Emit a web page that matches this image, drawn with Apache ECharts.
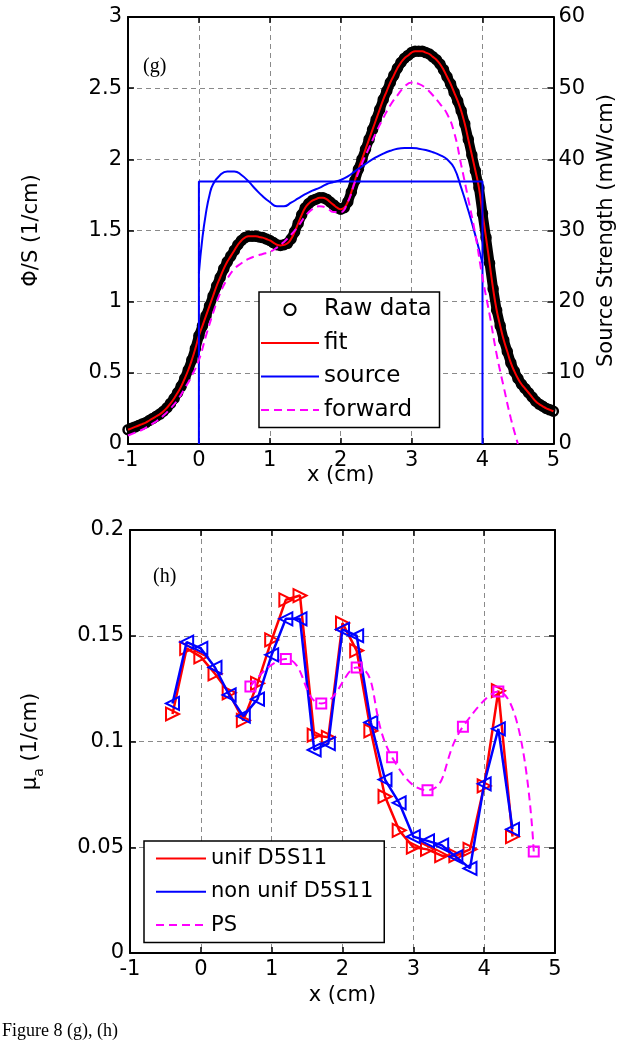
<!DOCTYPE html>
<html><head><meta charset="utf-8">
<script src="https://cdn.jsdelivr.net/npm/echarts@6/dist/echarts.min.js"></script>
<style>html,body{margin:0;padding:0;background:#fff}#c{width:625px;height:1050px}</style>
</head><body><div id="c"></div>
<script>
// ---------- panel (g) ----------
const xRaw = [
 -1.00,-0.95,-0.90,-0.85,-0.80,-0.75,-0.70,-0.65,-0.60,-0.55,
 -0.50,-0.45,-0.40,-0.35,-0.30,-0.25,-0.20,-0.15,-0.10,-0.05,
  0.00, 0.05, 0.10, 0.15, 0.20, 0.25, 0.30, 0.35, 0.40, 0.45,
  0.50, 0.55, 0.60, 0.65, 0.70, 0.75, 0.80, 0.85, 0.90, 0.95,
  1.00, 1.05, 1.10, 1.15, 1.20, 1.25, 1.30, 1.35, 1.40, 1.45,
  1.50, 1.55, 1.60, 1.65, 1.70, 1.75, 1.80, 1.85, 1.90, 1.95,
  2.00, 2.05, 2.10, 2.15, 2.20, 2.25, 2.30, 2.35, 2.40, 2.45,
  2.50, 2.55, 2.60, 2.65, 2.70, 2.75, 2.80, 2.85, 2.90, 2.95,
  3.00, 3.05, 3.10, 3.15, 3.20, 3.25, 3.30, 3.35, 3.40, 3.45,
  3.50, 3.55, 3.60, 3.65, 3.70, 3.75, 3.80, 3.85, 3.90, 3.95,
  4.00, 4.05, 4.10, 4.15, 4.20, 4.25, 4.30, 4.35, 4.40, 4.45,
  4.50, 4.55, 4.60, 4.65, 4.70, 4.75, 4.80, 4.85, 4.90, 4.95,
  5.00];
const phiRaw = [
 0.10,0.11,0.12,0.13,0.14,0.15,0.165,0.18,0.195,0.21,
 0.23,0.255,0.285,0.32,0.36,0.405,0.46,0.52,0.59,0.67,
 0.76,0.83,0.90,0.97,1.04,1.11,1.17,1.23,1.28,1.32,
 1.36,1.40,1.43,1.45,1.46,1.46,1.46,1.455,1.45,1.44,
 1.43,1.415,1.40,1.395,1.40,1.41,1.44,1.49,1.55,1.61,
 1.66,1.69,1.71,1.72,1.73,1.73,1.72,1.70,1.68,1.66,
 1.65,1.66,1.70,1.77,1.85,1.93,2.00,2.07,2.14,2.21,
 2.28,2.35,2.42,2.48,2.54,2.59,2.64,2.68,2.71,2.73,
 2.75,2.76,2.76,2.76,2.75,2.74,2.72,2.70,2.67,2.63,
 2.58,2.53,2.47,2.41,2.34,2.25,2.14,2.03,1.92,1.80,
 1.62,1.45,1.27,1.09,0.94,0.83,0.73,0.65,0.57,0.51,
 0.46,0.42,0.39,0.36,0.33,0.30,0.28,0.265,0.25,0.24,
 0.23];
const phiFit = phiRaw.slice();
const xFwd = [
 -1.0,-0.9,-0.8,-0.7,-0.6,-0.5,-0.4,-0.3,-0.2,-0.1,
  0.0, 0.1, 0.2, 0.3, 0.4, 0.5, 0.6, 0.7, 0.8, 0.9,
  1.0, 1.1, 1.2, 1.3, 1.4, 1.5, 1.6, 1.7, 1.8, 1.9,
  2.0, 2.1, 2.2, 2.3, 2.4, 2.5, 2.6, 2.7, 2.8, 2.9,
  3.0, 3.1, 3.2, 3.3, 3.4, 3.5, 3.6, 3.7, 3.8, 3.9,
  4.0, 4.1, 4.2, 4.3, 4.4, 4.5];
const phiFwd = [
 0.06,0.08,0.10,0.13,0.16,0.20,0.25,0.31,0.39,0.48,
 0.59,0.76,0.92,1.06,1.16,1.23,1.27,1.30,1.32,1.335,
 1.35,1.38,1.42,1.47,1.53,1.60,1.65,1.67,1.66,1.63,
 1.63,1.70,1.84,1.97,2.08,2.19,2.29,2.38,2.45,2.51,
 2.54,2.53,2.50,2.45,2.39,2.32,2.19,1.96,1.72,1.47,
 1.17,0.91,0.63,0.40,0.18,0.0];
const xSrcStep = [0, 0, 4, 4];
const srcStep = [0, 36.9, 36.9, 0];
const xSrc = [0,0.05,0.1,0.15,0.2,0.3,0.4,0.5,0.6,0.7,0.8,0.9,1.0,1.1,1.2,1.3,1.4,1.5,1.6,1.7,1.8,1.9,
  2.0,2.1,2.2,2.3,2.4,2.5,2.6,2.7,2.8,2.9,3.0,3.1,3.2,3.3,3.4,3.5,3.6,3.7,3.8,3.9,4.0];
const srcRec = [24,29,32.5,35,36.5,37.8,38.3,38.3,37.8,36.9,35.8,34.8,34.0,33.4,33.4,33.9,34.5,35.1,35.6,36.0,36.5,36.8,
  37.1,37.6,38.3,39.0,39.7,40.3,40.8,41.2,41.5,41.6,41.6,41.5,41.3,41.0,40.6,40.0,38.8,36.0,32.8,29.3,25.4];

// ---------- panel (h) ----------
const xMu = [-0.4,-0.2,0,0.2,0.4,0.6,0.8,1.0,1.2,1.4,1.6,1.8,2.0,2.2,2.4,2.6,2.8,3.0,3.2,3.4,3.6,3.8,4.0,4.2,4.4];
const muUnif = [0.113,0.144,0.140,0.132,0.123,0.110,0.1275,0.148,0.167,0.169,0.103,0.102,0.156,0.143,0.105,0.074,0.058,0.050,0.049,0.046,0.046,0.049,0.079,0.124,0.055];
const muNonUnif = [0.118,0.147,0.144,0.135,0.122,0.112,0.120,0.141,0.158,0.158,0.096,0.099,0.153,0.150,0.109,0.082,0.071,0.055,0.053,0.051,0.0455,0.040,0.080,0.106,0.0585];
const xPS = [0.7,1.2,1.7,2.2,2.7,3.2,3.7,4.2,4.7];
const muPS = [0.126,0.139,0.118,0.135,0.0925,0.077,0.107,0.1236,0.048];

const xTicks = [-1, 5, 1];

const zip = (xs, ys) => xs.map((x, i) => [x, ys[i]]);
const F = 'DejaVu Sans';
const gridLine = {show: true, lineStyle: {color: '#8a8a8a', width: 1, type: [5, 4]}};
const axLine = {show: true, onZero: false, lineStyle: {color: '#000', width: 2}};
const tick = {show: true, inside: true, length: 6, lineStyle: {color: '#000', width: 1.5}};
const lab = {color: '#000', fontSize: 21, fontFamily: F};
const nameStyle = {color: '#000', fontSize: 21, fontFamily: F};

const chart = echarts.init(document.getElementById('c'), null, {renderer: 'canvas'});
chart.setOption({
  animation: false,
  backgroundColor: '#fff',
  grid: [
    {left: 128, top: 17, width: 426, height: 427},
    {left: 130, top: 530, width: 425, height: 423}
  ],
  xAxis: [
    {gridIndex: 0, type: 'value', min: xTicks[0], max: xTicks[1], interval: xTicks[2], position: 'bottom',
     axisLine: axLine, axisTick: tick, axisLabel: Object.assign({margin: 6}, lab), splitLine: gridLine,
     name: 'x (cm)', nameLocation: 'middle', nameGap: 21, nameMoveOverlap: false, nameTextStyle: nameStyle},
    {gridIndex: 0, type: 'value', min: xTicks[0], max: xTicks[1], interval: xTicks[2], position: 'top',
     axisLine: axLine, axisTick: tick, axisLabel: {show: false}, splitLine: {show: false}},
    {gridIndex: 1, type: 'value', min: xTicks[0], max: xTicks[1], interval: xTicks[2], position: 'bottom',
     axisLine: axLine, axisTick: tick, axisLabel: Object.assign({margin: 6}, lab), splitLine: gridLine,
     name: 'x (cm)', nameLocation: 'middle', nameGap: 32, nameTextStyle: nameStyle},
    {gridIndex: 1, type: 'value', min: xTicks[0], max: xTicks[1], interval: xTicks[2], position: 'top',
     axisLine: axLine, axisTick: tick, axisLabel: {show: false}, splitLine: {show: false}}
  ],
  yAxis: [
    {gridIndex: 0, type: 'value', min: 0, max: 3, interval: 0.5, position: 'left',
     axisLine: axLine, axisTick: tick, axisLabel: Object.assign({margin: 6}, lab), splitLine: gridLine,
     name: 'Φ/S (1/cm)', nameLocation: 'middle', nameGap: 86, nameRotate: 90, nameTextStyle: nameStyle},
    {gridIndex: 0, type: 'value', min: 0, max: 60, interval: 10, position: 'right',
     axisLine: axLine, axisTick: tick, axisLabel: Object.assign({margin: 5}, lab), splitLine: {show: false},
     name: 'Source Strength (mW/cm)', nameLocation: 'middle', nameGap: 34, nameRotate: 90, nameTextStyle: nameStyle},
    {gridIndex: 1, type: 'value', min: 0, max: 0.2, interval: 0.05, position: 'left',
     axisLine: axLine, axisTick: tick, axisLabel: Object.assign({margin: 6}, lab), splitLine: gridLine,
     name: '{m|μ}{s|a}{m| (1/cm)}', nameLocation: 'middle', nameGap: 84, nameRotate: 90,
     nameTextStyle: {color: '#000', fontSize: 21, fontFamily: F,
       rich: {m: {fontSize: 21, fontFamily: F, color: '#000', lineHeight: 30},
              s: {fontSize: 14, fontFamily: F, color: '#000', lineHeight: 14, verticalAlign: 'bottom'}}}},
    {gridIndex: 1, type: 'value', min: 0, max: 0.2, interval: 0.05, position: 'right',
     axisLine: axLine, axisTick: tick, axisLabel: {show: false}, splitLine: {show: false}}
  ],
  legend: [
    {orient: 'vertical', left: 259, top: 292, padding: [6, 8, 6, 1], itemWidth: 58, itemHeight: 14, itemGap: 10.5,
     borderColor: '#000', borderWidth: 1.5, borderRadius: 0, backgroundColor: '#fff', selectedMode: false,
     textStyle: {fontSize: 23, lineHeight: 23, fontFamily: F, color: '#000'},
     data: [{name: 'Raw data', lineStyle: {opacity: 0}},
            {name: 'fit', itemStyle: {opacity: 0}},
            {name: 'source', itemStyle: {opacity: 0}},
            {name: 'forward', itemStyle: {opacity: 0}}]},
    {orient: 'vertical', left: 144, top: 841, padding: [7, 11, 7, 11], itemWidth: 50, itemHeight: 14, itemGap: 12.3,
     borderColor: '#000', borderWidth: 1.5, borderRadius: 0, backgroundColor: '#fff', selectedMode: false,
     textStyle: {fontSize: 21, lineHeight: 21, fontFamily: F, color: '#000'},
     data: [{name: 'unif D5S11', itemStyle: {opacity: 0}},
            {name: 'non unif D5S11', itemStyle: {opacity: 0}},
            {name: 'PS', itemStyle: {opacity: 0}}]}
  ],
  series: [
    {name: 'Raw data', type: 'line', xAxisIndex: 0, yAxisIndex: 0, data: zip(xRaw, phiRaw),
     symbol: 'circle', symbolSize: 9, showSymbol: true,
     itemStyle: {color: 'transparent', borderColor: '#000', borderWidth: 2.5},
     lineStyle: {color: '#000', width: 10}, z: 2},
    {name: 'fit', type: 'line', xAxisIndex: 0, yAxisIndex: 0, data: zip(xRaw, phiFit), smooth: true,
     symbol: 'none', itemStyle: {color: '#ff0000'}, lineStyle: {color: '#ff0000', width: 2}, z: 3},
    {name: 'source', type: 'line', xAxisIndex: 0, yAxisIndex: 1, data: zip(xSrcStep, srcStep),
     symbol: 'none', itemStyle: {color: '#0000ff'}, lineStyle: {color: '#0000ff', width: 2}, z: 4},
    {name: 'source', type: 'line', xAxisIndex: 0, yAxisIndex: 1, data: zip(xSrc, srcRec), smooth: true,
     symbol: 'none', itemStyle: {color: '#0000ff'}, lineStyle: {color: '#0000ff', width: 2}, z: 4},
    {name: 'forward', type: 'line', xAxisIndex: 0, yAxisIndex: 0, data: zip(xFwd, phiFwd), smooth: true,
     symbol: 'none', itemStyle: {color: '#ff00ff'}, lineStyle: {color: '#ff00ff', width: 2, type: [8, 5]}, z: 5},

    {name: 'unif D5S11', type: 'line', xAxisIndex: 2, yAxisIndex: 2, data: zip(xMu, muUnif),
     symbol: 'triangle', symbolSize: 13, symbolRotate: -90,
     itemStyle: {color: 'transparent', borderColor: '#ff0000', borderWidth: 2},
     lineStyle: {color: '#ff0000', width: 2.5}, z: 3},
    {name: 'non unif D5S11', type: 'line', xAxisIndex: 2, yAxisIndex: 2, data: zip(xMu, muNonUnif),
     symbol: 'triangle', symbolSize: 13, symbolRotate: 90,
     itemStyle: {color: 'transparent', borderColor: '#0000ff', borderWidth: 2},
     lineStyle: {color: '#0000ff', width: 2.5}, z: 4},
    {name: 'PS', type: 'line', xAxisIndex: 2, yAxisIndex: 2, data: zip(xPS, muPS), smooth: 0.5,
     symbol: 'rect', symbolSize: 10,
     itemStyle: {color: 'transparent', borderColor: '#ff00ff', borderWidth: 2},
     lineStyle: {color: '#ff00ff', width: 2, type: [8, 5]}, z: 5}
  ],
  graphic: [
    {type: 'text', left: 143, top: 57, style: {text: '(g)', font: '20px "Liberation Serif"', fill: '#000'}},
    {type: 'text', left: 153, top: 567, style: {text: '(h)', font: '20px "Liberation Serif"', fill: '#000'}},
    {type: 'text', left: 2, top: 1022, style: {text: 'Figure 8 (g), (h)', font: '18px "Liberation Serif"', fill: '#000'}}
  ]
});
</script>
</body></html>
